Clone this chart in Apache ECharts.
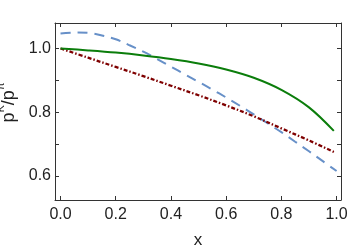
<!DOCTYPE html>
<html><head><meta charset="utf-8">
<script src="https://cdn.jsdelivr.net/npm/echarts@6/dist/echarts.min.js"></script>
<style>html,body{margin:0;padding:0;background:#fff}#c{width:349px;height:251px}</style>
</head><body><div id="c"></div>
<script>
const xGreen = [0, 0.1, 0.2, 0.3, 0.4, 0.5, 0.6, 0.7, 0.8, 0.9, 0.99];
const yGreen = [1.000, 0.994, 0.987, 0.978, 0.967, 0.953, 0.934, 0.908, 0.870, 0.815, 0.741];
const xRed = [0, 0.1, 0.2, 0.3, 0.4, 0.5, 0.6, 0.7, 0.8, 0.9, 0.99];
const yRed = [1.000, 0.971, 0.942, 0.913, 0.883, 0.853, 0.821, 0.787, 0.749, 0.711, 0.675];
const xBlue = [0, 0.05, 0.1, 0.15, 0.2, 0.25, 0.3, 0.35, 0.4, 0.45, 0.5, 0.55, 0.6, 0.65, 0.7, 0.75, 0.8, 0.85, 0.9, 0.95, 1.0];
const yBlue = [1.047, 1.050, 1.049, 1.041, 1.029, 1.010, 0.990, 0.967, 0.943, 0.919, 0.895, 0.871, 0.846, 0.820, 0.793, 0.765, 0.737, 0.707, 0.677, 0.646, 0.615];
const xTicks = [0, 0.2, 0.4, 0.6, 0.8, 1.0];
const yLabels = [0.6, 0.8, 1.0];
const yTicks = [0.6, 0.7, 0.8, 0.9, 1.0];

const zip = (a, b) => a.map((v, i) => [v, b[i]]);
const font = '"Liberation Sans", Arial, sans-serif';
const axCol = '#333';
const chart = echarts.init(document.getElementById('c'));
const baseX = {
  type: 'value', min: -0.02, max: 1.016,
  splitLine: {show: false},
  axisLine: {show: true, onZero: false, lineStyle: {color: axCol, width: 1}},
  axisTick: {show: true, inside: true, length: 4, customValues: xTicks, lineStyle: {color: axCol}},
};
const baseY = {
  type: 'value', min: 0.524, max: 1.08,
  splitLine: {show: false},
  axisLine: {show: true, onZero: false, lineStyle: {color: axCol, width: 1}},
  axisTick: {show: true, inside: true, length: 4, customValues: yTicks, lineStyle: {color: axCol}},
};
chart.setOption({
  animation: false,
  grid: {left: 55, right: 8, top: 23, bottom: 51, containLabel: false, outerBoundsMode: 'none'},
  xAxis: [
    Object.assign({}, baseX, {position: 'bottom', name: 'x', nameLocation: 'middle', nameGap: 32,
      nameTextStyle: {fontFamily: font, fontSize: 17, color: '#222'},
      axisLabel: {customValues: xTicks, fontFamily: font, fontSize: 16, color: '#222', margin: 7,
        formatter: v => v.toFixed(1)}}),
    Object.assign({}, baseX, {position: 'top', axisLabel: {show: false}})
  ],
  yAxis: [
    Object.assign({}, baseY, {position: 'left', name: '{p|p}{s|K}{p|/p}{s|π}', nameLocation: 'middle', nameGap: 24, nameRotate: 90,
      nameTextStyle: {fontFamily: font, color: '#222', padding: [0, 0, 0, 18],
        rich: {p: {fontFamily: font, fontSize: 18, color: '#222', verticalAlign: 'bottom', lineHeight: 22},
               s: {fontFamily: font, fontSize: 11, color: '#222', verticalAlign: 'top', lineHeight: 22}}},
      axisLabel: {customValues: yLabels, fontFamily: font, fontSize: 16, color: '#222', margin: 4,
        formatter: v => v.toFixed(1)}}),
    Object.assign({}, baseY, {position: 'right', axisLabel: {show: false}})
  ],
  series: [
    {type: 'line', data: zip(xBlue, yBlue), smooth: 0.35, showSymbol: false,
      lineStyle: {color: '#6790c8', width: 2, type: [10, 7]}},
    {type: 'line', data: zip(xRed, yRed), smooth: 0.35, showSymbol: false,
      lineStyle: {color: '#7f0000', width: 2.3, type: [4, 2, 1.5, 2]}},
    {type: 'line', data: zip(xGreen, yGreen), smooth: 0.35, showSymbol: false,
      lineStyle: {color: '#0b7d0b', width: 2}}
  ]
});
</script></body></html>
